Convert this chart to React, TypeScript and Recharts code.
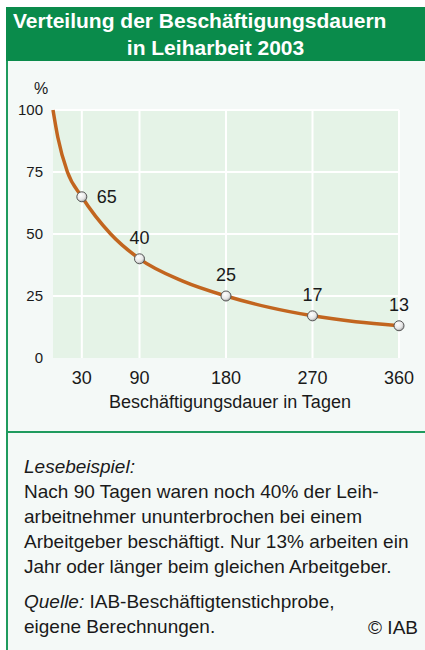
import React from 'react';
import { LineChart, Line, XAxis, YAxis, CartesianGrid, LabelList } from 'recharts';

// Verlauf der Kurve und markierte Werte
const days = [0, 5, 15, 30, 60, 90, 135, 180, 225, 270, 315, 360];
const shares = [100, 89, 75, 65, 50, 40, 31, 25, 20.4, 17, 14.6, 13];
const markedDays = [30, 90, 180, 270, 360];
const xTicks = [30, 90, 180, 270, 360];
const yTicks = [0, 25, 50, 75, 100];

const data = days.map((d, i) => ({ x: d, y: shares[i] }));

const FONT = '"Liberation Sans", Arial, sans-serif';
const GREEN = '#0a8b4b';
const LINE = '#c2651f';

function Dot(props: any) {
  const { cx, cy, index, payload } = props;
  if (!markedDays.includes(payload.x)) return null;
  return (
    <circle key={index} cx={cx} cy={cy} r={5} fill="url(#dotFill)" stroke="#555" strokeWidth={1} />
  );
}

function ValueLabel(props: any) {
  const { x, y, value, index } = props;
  if (!markedDays.includes(days[index])) return null;
  const right = days[index] === 30;
  return (
    <text
      x={right ? x + 15 : x}
      y={right ? y : y - 21}
      dy="0.36em"
      textAnchor={right ? 'start' : 'middle'}
      fontSize={18}
      fill="#1a1a1a"
      fontFamily={FONT}
    >
      {value}
    </text>
  );
}

export default function App() {
  return (
    <div style={{ position: 'absolute', left: 0, top: 0, width: 425, height: 650, background: '#fff', fontFamily: FONT, overflow: 'hidden' }}>
      <div style={{ position: 'absolute', left: 6, top: 7, right: 0, bottom: 0, background: '#f4f9f7', borderLeft: '2px solid #1f9b5e' }} />
      <div style={{ position: 'absolute', left: 6, top: 7, width: 419, height: 54, background: GREEN, color: '#fff', fontWeight: 'bold', fontSize: 21, lineHeight: '27px' }}>
        <div style={{ paddingLeft: 7, whiteSpace: 'nowrap' }}>Verteilung der Beschäftigungsdauern</div>
        <div style={{ textAlign: 'center' }}>in Leiharbeit 2003</div>
      </div>
      <div style={{ position: 'absolute', left: 34, top: 79, fontSize: 16, lineHeight: '20px', color: '#1a1a1a' }}>%</div>
      <div style={{ position: 'absolute', left: 0, top: 90 }}>
        <LineChart width={425} height={330} data={data} margin={{ top: 20, right: 26, left: 8, bottom: 22 }}>
          <defs>
            <radialGradient id="dotFill" cx="40%" cy="35%" r="70%">
              <stop offset="0%" stopColor="#ffffff" />
              <stop offset="60%" stopColor="#e6e6e6" />
              <stop offset="100%" stopColor="#9a9a9a" />
            </radialGradient>
          </defs>
          <CartesianGrid
            fill="#e5f3e7"
            stroke="#ffffff"
            strokeWidth={2}
            horizontalValues={[25, 50, 75, 100]}
            verticalValues={xTicks}
          />
          <XAxis
            type="number"
            dataKey="x"
            domain={[0, 360]}
            ticks={xTicks}
            axisLine={false}
            tickLine={false}
            tickMargin={7}
            height={40}
            tick={{ fontSize: 18, fill: '#1a1a1a', fontFamily: FONT }}
          />
          <YAxis
            type="number"
            domain={[0, 100]}
            ticks={yTicks}
            axisLine={false}
            tickLine={false}
            tickMargin={4}
            width={45}
            tick={{ fontSize: 15, fill: '#1a1a1a', fontFamily: FONT }}
          />
          <Line
            type="monotone"
            dataKey="y"
            stroke={LINE}
            strokeWidth={3.5}
            dot={<Dot />}
            activeDot={false}
            isAnimationActive={false}
          >
            <LabelList dataKey="y" content={<ValueLabel />} />
          </Line>
        </LineChart>
      </div>
      <div style={{ position: 'absolute', left: 0, top: 392, width: 460, textAlign: 'center', fontSize: 18, lineHeight: '20px', color: '#1a1a1a' }}>
        Beschäftigungsdauer in Tagen
      </div>
      <div style={{ position: 'absolute', left: 6, top: 431, width: 419, height: 2, background: '#1f9b5e' }} />
      <div style={{ position: 'absolute', left: 24, top: 454, fontSize: 19, lineHeight: '25px', color: '#1a1a1a', whiteSpace: 'nowrap' }}>
        <i>Lesebeispiel:</i>
        <br />
        Nach 90 Tagen waren noch 40% der Leih-
        <br />
        arbeitnehmer ununterbrochen bei einem
        <br />
        Arbeitgeber beschäftigt. Nur 13% arbeiten ein
        <br />
        Jahr oder länger beim gleichen Arbeitgeber.
      </div>
      <div style={{ position: 'absolute', left: 24, top: 589, fontSize: 19, lineHeight: '25px', color: '#1a1a1a', whiteSpace: 'nowrap' }}>
        <i>Quelle:</i> IAB-Beschäftigtenstichprobe,
        <br />
        eigene Berechnungen.
      </div>
      <div style={{ position: 'absolute', right: 7, top: 615, fontSize: 19, lineHeight: '25px', color: '#1a1a1a' }}>© IAB</div>
    </div>
  );
}
